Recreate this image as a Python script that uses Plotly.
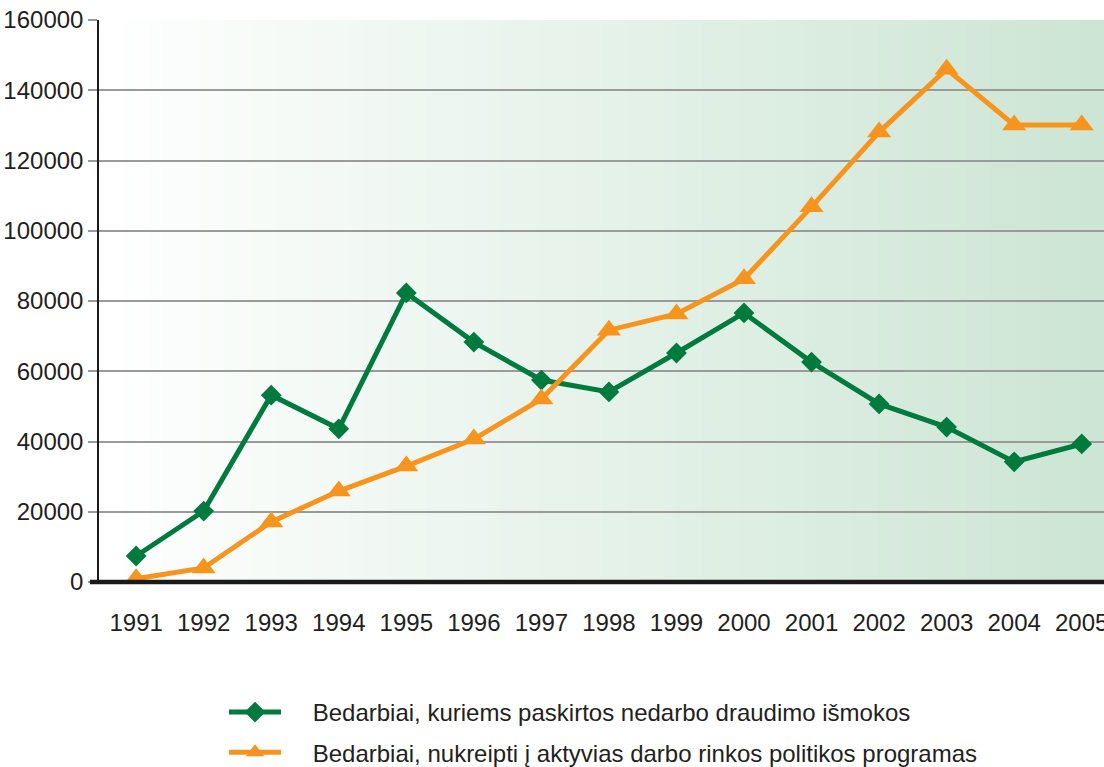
import plotly.graph_objects as go

# data
years = list(range(1991, 2006))
draudimo_ismokos = [7400, 20200, 53200, 43600, 82300, 68300, 57500, 54100,
                    65200, 76600, 62600, 50700, 44100, 34200, 39300]
aktyvios_programos = [900, 4000, 17100, 25900, 33000, 40700, 52100, 71700,
                      76300, 86300, 106800, 128100, 146000, 130100, 130100]
names = ["Bedarbiai, kuriems paskirtos nedarbo draudimo išmokos",
         "Bedarbiai, nukreipti į aktyvias darbo rinkos politikos programas"]
y_ticks = [0, 20000, 40000, 60000, 80000, 100000, 120000, 140000, 160000]

GREEN = "#007a3d"
ORANGE = "#f7941d"
TEXT = "#231f20"
PAD = "\u00a0" * 4

fig = go.Figure()
fig.add_trace(go.Scatter(
    x=years, y=draudimo_ismokos, name=PAD + names[0], mode="lines+markers",
    line=dict(color=GREEN, width=5),
    marker=dict(symbol="diamond", size=16, color=GREEN),
    legendgroup="a",
))
fig.add_trace(go.Scatter(
    x=years, y=aktyvios_programos, name=PAD + names[1], mode="lines+markers",
    line=dict(color=ORANGE, width=5),
    marker=dict(symbol="triangle-up", size=21, color=ORANGE),
    legendgroup="b",
))

# horizontal white -> light green background gradient
shapes = []
n = 80
for i in range(n):
    t = (i + 0.5) / n
    r = round(255 + (204 - 255) * t)
    g = round(255 + (229 - 255) * t)
    b = round(255 + (212 - 255) * t)
    shapes.append(dict(type="rect", xref="x domain", yref="y domain",
                       x0=i / n, x1=(i + 1) / n + 0.002, y0=0, y1=1,
                       fillcolor=f"rgb({r},{g},{b})", line=dict(width=0),
                       layer="below"))
# thick base line at zero
shapes.append(dict(type="line", xref="paper", yref="paper",
                   x0=-0.009, x1=1.01, y0=0, y1=0,
                   line=dict(color="#1a1a1a", width=4.5), layer="above"))

fig.update_layout(
    width=1104, height=767,
    margin=dict(l=99, r=0, t=20, b=185),
    paper_bgcolor="white",
    plot_bgcolor="white",
    font=dict(family="Liberation Sans, Arial, sans-serif", size=24, color=TEXT),
    shapes=shapes,
    showlegend=True,
    legend=dict(
        xref="paper", yref="container",
        x=0.1244, y=1 - 690 / 767, xanchor="left", yanchor="top",
        orientation="v", tracegroupgap=6,
        font=dict(size=24, color=TEXT),
        bgcolor="rgba(0,0,0,0)", itemwidth=52,
    ),
)
fig.update_xaxes(
    range=[1990.45, 2005.33], tickvals=years, ticktext=[str(y) for y in years],
    showgrid=False, zeroline=False, showline=False,
    ticks="outside", ticklen=19, tickcolor="rgba(0,0,0,0)",
    tickfont=dict(size=24, color=TEXT), automargin=False,
    ticklabeloverflow="allow",
)
fig.update_yaxes(
    range=[0, 160000], tickvals=y_ticks, ticktext=[str(v) for v in y_ticks],
    showgrid=True, gridcolor="#9a9a9a", gridwidth=2,
    zeroline=False, showline=True, linecolor="#1a1a1a", linewidth=1.5,
    ticks="outside", ticklen=9, tickcolor="#9a9a9a", tickwidth=2,
    tickfont=dict(size=24, color=TEXT), automargin=False,
    ticklabeloverflow="allow",
)

# drop the default page margin so the figure sits at the window origin
fig.write_html("out.html",
               config={"displayModeBar": False},
               post_script="document.body.style.margin='0';"
                           "document.body.style.overflow='hidden';")
